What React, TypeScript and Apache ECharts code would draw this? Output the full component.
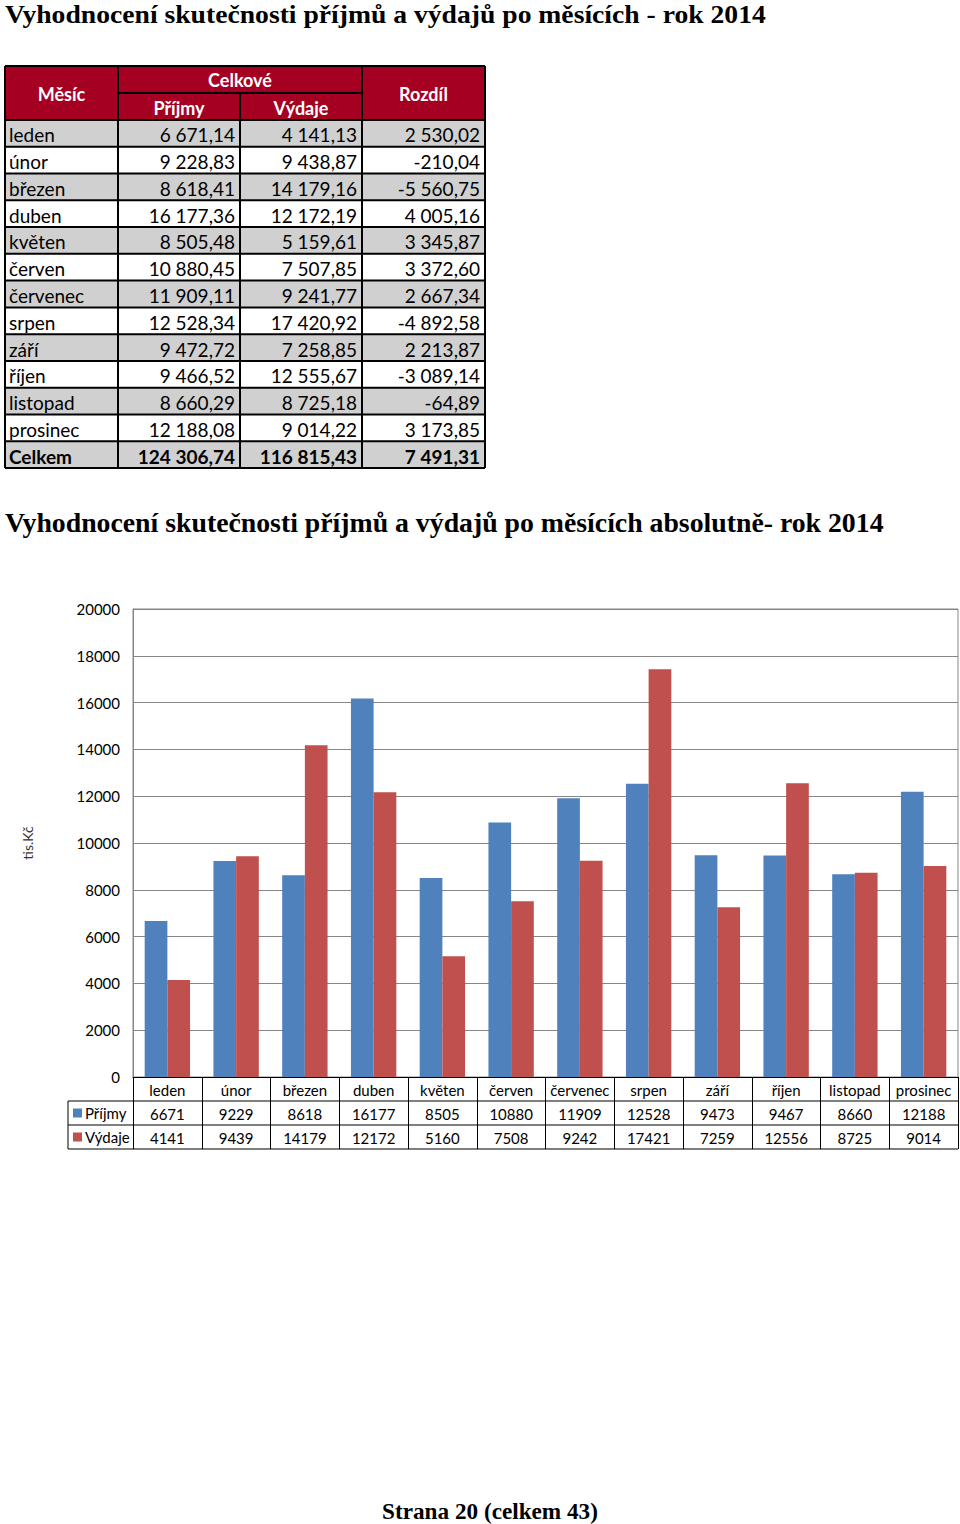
import React, { useEffect, useRef } from "react";
import * as echarts from "echarts";

const months = ["leden", "únor", "březen", "duben", "květen", "červen", "červenec", "srpen", "září", "říjen", "listopad", "prosinec"];
const prijmy = [6671.14, 9228.83, 8618.41, 16177.36, 8505.48, 10880.45, 11909.11, 12528.34, 9472.72, 9466.52, 8660.29, 12188.08];
const vydaje = [4141.13, 9438.87, 14179.16, 12172.19, 5159.61, 7507.85, 9241.77, 17420.92, 7258.85, 12555.67, 8725.18, 9014.22];
const rozdil = [2530.02, -210.04, -5560.75, 4005.16, 3345.87, 3372.6, 2667.34, -4892.58, 2213.87, -3089.14, -64.89, 3173.85];
const totals = [124306.74, 116815.43, 7491.31];
const chartPrijmy = [6671, 9229, 8618, 16177, 8505, 10880, 11909, 12528, 9473, 9467, 8660, 12188];
const chartVydaje = [4141, 9439, 14179, 12172, 5160, 7508, 9242, 17421, 7259, 12556, 8725, 9014];
const seriesNames = ["Příjmy", "Výdaje"];
const tableHead = { month: "Měsíc", group: "Celkové", diff: "Rozdíl", total: "Celkem" };
const title1 = "Vyhodnocení skutečnosti příjmů a výdajů po měsících - rok 2014";
const title2 = "Vyhodnocení skutečnosti příjmů a výdajů po měsících absolutně- rok 2014";
const footer = "Strana 20 (celkem 43)";
const yName = "tis.Kč";

const SANS = "Lato";
const SERIF = "Liberation Serif";
const RED = "#a50021";
const GRAY = "#d0d0d0";
const BLUE = "#4f81bd";
const BARRED = "#c0504d";

function fmt(v: number) {
  const neg = v < 0;
  const [i, d] = Math.abs(v).toFixed(2).split(".");
  const ip = i.replace(/\B(?=(\d{3})+(?!\d))/g, " ");
  return (neg ? "-" : "") + ip + "," + d;
}

function measure(text: string, font: string) {
  const c = document.createElement("canvas").getContext("2d");
  if (!c) return 1;
  c.font = font;
  return c.measureText(text).width || 1;
}

function serifText(text: string, x: number, y: number, size: number, target: number, align: string) {
  const w = measure(text, `bold ${size}px "${SERIF}"`);
  return {
    type: "text",
    x,
    y,
    scaleX: target / w,
    style: { text, fontFamily: SERIF, fontWeight: "bold", fontSize: size, fill: "#000", align, verticalAlign: "middle" },
  };
}

export default function App() {
  const ref = useRef<HTMLDivElement>(null);
  useEffect(() => {
    if (!ref.current) return;
    const chart = echarts.init(ref.current, null, { renderer: "svg" });

    // table geometry
    const COLS = [5, 118, 240, 362, 485];
    const HT = 66, HM = 93, BT = 120, RH = 26.77;
    const nRows = months.length + 1;
    const BB = BT + RH * nRows;
    const els: any[] = [];
    els.push({ type: "rect", shape: { x: COLS[0], y: HT, width: COLS[4] - COLS[0], height: BT - HT }, style: { fill: RED } });
    for (let r = 0; r < nRows; r++) {
      els.push({
        type: "rect",
        shape: { x: COLS[0], y: BT + r * RH, width: COLS[4] - COLS[0], height: RH },
        style: { fill: r % 2 === 0 ? GRAY : "#fff" },
      });
    }
    const line = (x1: number, y1: number, x2: number, y2: number, w = 2) => ({
      type: "line",
      shape: { x1, y1, x2, y2 },
      style: { stroke: "#000", lineWidth: w },
    });
    els.push(line(COLS[0], HT, COLS[4], HT));
    els.push(line(COLS[1], HM, COLS[3], HM));
    for (let r = 0; r <= nRows; r++) els.push(line(COLS[0], BT + r * RH, COLS[4], BT + r * RH));
    els.push(line(COLS[0], HT, COLS[0], BB));
    els.push(line(COLS[1], HT, COLS[1], BB));
    els.push(line(COLS[2], HM, COLS[2], BB));
    els.push(line(COLS[3], HT, COLS[3], BB));
    els.push(line(COLS[4], HT, COLS[4], BB));
    const hText = (text: string, x: number, y: number) => ({
      type: "text",
      x,
      y,
      style: { text, fontFamily: SANS, fontWeight: "bold", fontSize: 18, fill: "#fff", align: "center", verticalAlign: "middle" },
    });
    els.push(hText(tableHead.month, (COLS[0] + COLS[1]) / 2, 94));
    els.push(hText(tableHead.group, (COLS[1] + COLS[3]) / 2, 80));
    els.push(hText(seriesNames[0], (COLS[1] + COLS[2]) / 2, 108));
    els.push(hText(seriesNames[1], (COLS[2] + COLS[3]) / 2, 108));
    els.push(hText(tableHead.diff, (COLS[3] + COLS[4]) / 2, 94));
    const cell = (text: string, x: number, y: number, align: string, bold: boolean) => ({
      type: "text",
      x,
      y,
      style: { text, fontFamily: SANS, fontWeight: bold ? "bold" : "normal", fontSize: 19, fill: "#000", align, verticalAlign: "middle" },
    });
    for (let r = 0; r < nRows; r++) {
      const y = BT + (r + 0.5) * RH + 1.5;
      const isTotal = r === months.length;
      const name = isTotal ? tableHead.total : months[r];
      const vals = isTotal ? totals : [prijmy[r], vydaje[r], rozdil[r]];
      els.push(cell(name, COLS[0] + 4, y, "left", isTotal));
      els.push(cell(fmt(vals[0]), COLS[2] - 5, y, "right", isTotal));
      els.push(cell(fmt(vals[1]), COLS[3] - 5, y, "right", isTotal));
      els.push(cell(fmt(vals[2]), COLS[4] - 5, y, "right", isTotal));
    }

    // titles
    els.push(serifText(title1, 5, 14, 26, 761, "left"));
    els.push(serifText(title2, 5, 523, 27, 879, "left"));
    els.push(serifText(footer, 490, 1511, 23, 216, "center"));

    // chart geometry
    const GL = 133, GT = 609, GW = 825, GH = 468;
    const GB = GT + GH;
    const ROW = 24;
    const KEY_L = 68;
    els.push(line(KEY_L, GB + ROW, GL + GW, GB + ROW, 1));
    els.push(line(KEY_L, GB + 2 * ROW, GL + GW, GB + 2 * ROW, 1));
    els.push(line(KEY_L, GB + 3 * ROW, GL + GW, GB + 3 * ROW, 1));
    els.push(line(KEY_L, GB + ROW, KEY_L, GB + 3 * ROW, 1));

    chart.setOption({
      animation: false,
      backgroundColor: "#fff",
      textStyle: { fontFamily: SANS },
      grid: { left: GL, top: GT, width: GW, height: GH, show: true, borderColor: "#868686", borderWidth: 1 },
      legend: {
        data: seriesNames,
        orient: "vertical",
        left: 73,
        top: GB + ROW,
        padding: 0,
        itemGap: 0,
        itemWidth: 9,
        itemHeight: 9,
        icon: "rect",
        textStyle: { fontFamily: SANS, fontSize: 15, color: "#000", lineHeight: ROW, padding: [0, 0, 0, -2] },
      },
      xAxis: {
        type: "category",
        data: months,
        axisLine: { lineStyle: { color: "#000", width: 1 } },
        axisTick: { show: true, length: ROW * 3, lineStyle: { color: "#000", width: 1 } },
        axisLabel: {
          interval: 0,
          margin: 1,
          fontFamily: SANS,
          fontSize: 15,
          lineHeight: ROW,
          color: "#000",
          formatter: (v: string, i: number) => `${v}\n${chartPrijmy[i]}\n${chartVydaje[i]}`,
        },
      },
      yAxis: {
        type: "value",
        min: 0,
        max: 20000,
        interval: 2000,
        name: yName,
        nameLocation: "middle",
        nameRotate: 90,
        nameGap: 99,
        nameTextStyle: { fontFamily: SANS, fontSize: 14, color: "#333" },
        axisLine: { show: true, lineStyle: { color: "#868686" } },
        axisTick: { show: false },
        splitLine: { lineStyle: { color: "#868686" } },
        axisLabel: { fontFamily: SANS, fontSize: 15, color: "#000", margin: 13, formatter: (v: number) => String(v) },
      },
      series: [
        { name: seriesNames[0], type: "bar", data: chartPrijmy, itemStyle: { color: BLUE }, barGap: "0%", barCategoryGap: "34%" },
        { name: seriesNames[1], type: "bar", data: chartVydaje, itemStyle: { color: BARRED }, barGap: "0%", barCategoryGap: "34%" },
      ],
      graphic: { elements: els },
    });
    return () => chart.dispose();
  }, []);
  return (
    <div
      ref={ref}
      style={{ position: "absolute", left: 0, top: 0, width: 960, height: 1524, background: "#fff" }}
    />
  );
}
